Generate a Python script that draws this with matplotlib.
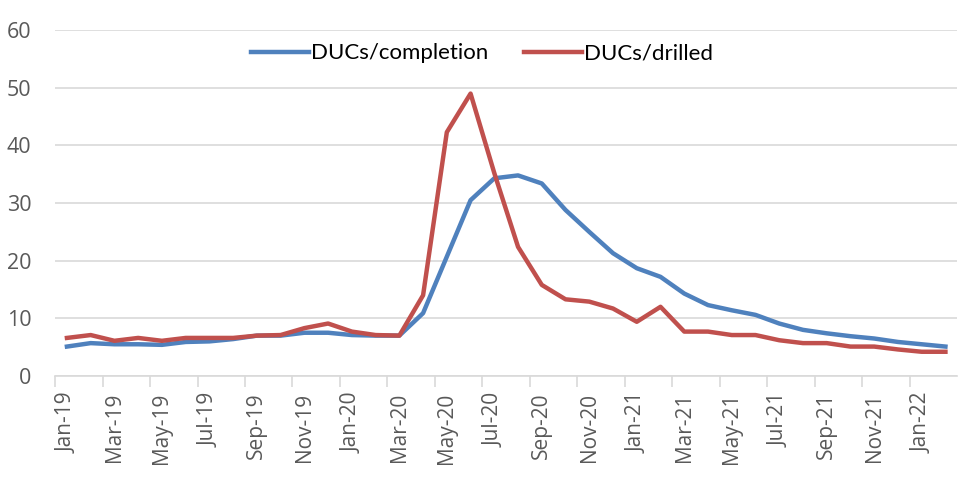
import matplotlib
matplotlib.use("Agg")
import matplotlib.pyplot as plt
import numpy as np

# monthly values Jan-19 .. Feb-22
months = ["Jan-19", "Feb-19", "Mar-19", "Apr-19", "May-19", "Jun-19", "Jul-19", "Aug-19",
          "Sep-19", "Oct-19", "Nov-19", "Dec-19", "Jan-20", "Feb-20", "Mar-20", "Apr-20",
          "May-20", "Jun-20", "Jul-20", "Aug-20", "Sep-20", "Oct-20", "Nov-20", "Dec-20",
          "Jan-21", "Feb-21", "Mar-21", "Apr-21", "May-21", "Jun-21", "Jul-21", "Aug-21",
          "Sep-21", "Oct-21", "Nov-21", "Dec-21", "Jan-22", "Feb-22"]

completion = [5.1, 5.7, 5.5, 5.5, 5.4, 5.9, 6.0, 6.4, 7.0, 7.0, 7.5, 7.5, 7.1, 7.0, 7.0,
              10.9, 20.7, 30.5, 34.3, 34.8, 33.4, 28.8, 25.0, 21.3, 18.7, 17.2, 14.3, 12.3,
              11.4, 10.6, 9.1, 8.0, 7.4, 6.9, 6.5, 5.9, 5.5, 5.1]

drilled = [6.6, 7.1, 6.1, 6.6, 6.1, 6.6, 6.6, 6.6, 7.0, 7.1, 8.3, 9.1, 7.7, 7.1, 7.0,
           14.0, 42.3, 49.0, 35.2, 22.4, 15.8, 13.3, 12.9, 11.7, 9.4, 12.0, 7.7, 7.7,
           7.1, 7.1, 6.2, 5.7, 5.7, 5.1, 5.1, 4.6, 4.2, 4.2]

plt.rcParams['font.family'] = ['Open Sans', 'DejaVu Sans']

fig = plt.figure(figsize=(9.66, 4.87), dpi=100)
ax = fig.add_axes([0.057, 0.228, 0.934, 0.71])

x = np.arange(len(months))
ax.plot(x, completion, color='#4F81BD', lw=3.2, label="DUCs/completion", solid_joinstyle='round')
ax.plot(x, drilled, color='#C0504D', lw=3.2, label="DUCs/drilled", solid_joinstyle='round')

ax.set_xlim(-0.5, len(months) - 0.5)
ax.set_ylim(0, 60)
ax.set_yticks(range(0, 61, 10))
ax.yaxis.grid(True, color='#D9D9D9', lw=1.2)
ax.set_axisbelow(True)
for s in ['top', 'right', 'left']:
    ax.spines[s].set_visible(False)
ax.spines['bottom'].set_color('#D9D9D9')
ax.spines['bottom'].set_linewidth(1.2)

ax.set_xticks(x[::2])
ax.set_xticklabels(months[::2], rotation=90)
ax.set_xticks(np.arange(-0.5, len(months) - 1, 2), minor=True)
ax.tick_params(axis='x', which='major', length=0, pad=12, labelsize=15, labelcolor='#595959')
ax.tick_params(axis='x', which='minor', length=8, width=1.2, color='#D9D9D9')
ax.tick_params(axis='y', length=0, pad=17, labelsize=15.5, labelcolor='#595959')

ax.legend(loc='upper center', bbox_to_anchor=(0.473, 1.02), ncol=2, frameon=False,
          prop={'family': 'Lato', 'size': 16}, handlelength=2.6, handletextpad=0.1,
          columnspacing=1.6)

plt.savefig("out.png", dpi=100)
